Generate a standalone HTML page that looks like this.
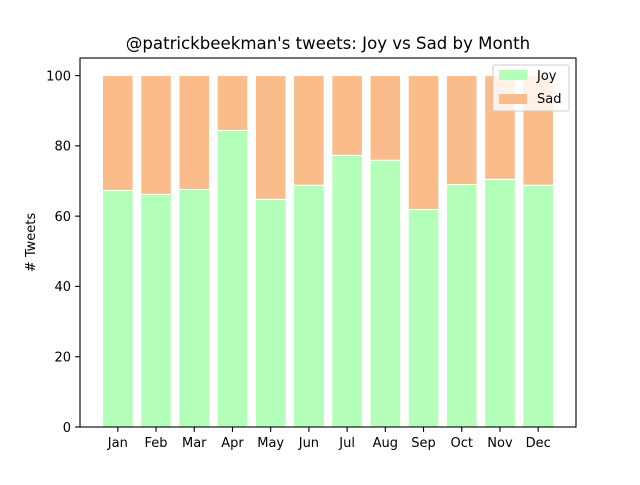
<!DOCTYPE html>
<html><head><meta charset="utf-8"><style>
body{margin:0;background:#fff;font-family:"Liberation Sans","DejaVu Sans",sans-serif;}
</style></head><body>
<svg width="640" height="480" xmlns="http://www.w3.org/2000/svg" id="chart" font-family="DejaVu Sans, Liberation Sans, sans-serif">
<rect width="640" height="480" fill="#fff"/>
</svg>
<script>
const months=["Jan","Feb","Mar","Apr","May","Jun","Jul","Aug","Sep","Oct","Nov","Dec"];
const joy=[67.3,66.2,67.6,84.4,64.8,68.8,77.3,75.9,61.9,69.0,70.5,68.8];
const sad=joy.map(v=>100-v);
const yTicks=[0,20,40,60,80,100];
const L=80,R=576,T=58,B=427;
const xMin=-0.99,xMax=11.99,yMin=0,yMax=105;
const x=i=>L+(i-xMin)/(xMax-xMin)*(R-L);
const y=v=>B-(v-yMin)/(yMax-yMin)*(B-T);
const ns="http://www.w3.org/2000/svg";
const svg=document.getElementById('chart');
function mk(tag,attrs,parent){const e=document.createElementNS(ns,tag);for(const k in attrs)e.setAttribute(k,attrs[k]);(parent||svg).appendChild(e);return e;}
const bw=0.8*(R-L)/(xMax-xMin);
months.forEach((m,i)=>{
  const b1=mk('rect',{x:x(i)-bw/2,y:y(joy[i]),width:bw,height:y(0)-y(joy[i]),fill:'#b3ffb9',stroke:'#fff','stroke-width':1});
  
  
  const b2=mk('rect',{x:x(i)-bw/2,y:y(joy[i]+sad[i]),width:bw,height:y(joy[i])-y(joy[i]+sad[i]),fill:'#f9bc8a',stroke:'#fff','stroke-width':1});
  
  
  const t=mk('line',{x1:x(i),x2:x(i),y1:B,y2:B+4.9,stroke:'#000','stroke-width':1.1});
  
  
  const tl=mk('text',{x:x(i),y:B+20,'text-anchor':'middle','font-size':13,fill:'#000'});
  tl.textContent=m;
  
  
});
yTicks.forEach(v=>{
  const t=mk('line',{x1:L-4.9,x2:L,y1:y(v),y2:y(v),stroke:'#000','stroke-width':1.1});
  
  
  const tl=mk('text',{x:L-9,y:y(v)+4.8,'text-anchor':'end','font-size':13,fill:'#000'});
  tl.textContent=v;
  
  
});
const frame=mk('rect',{x:L,y:T,width:R-L,height:B-T,fill:'none',stroke:'#000','stroke-width':1.1});


const title=mk('text',{x:(L+R)/2,y:T-9,'text-anchor':'middle','font-size':16.6,fill:'#000'});
title.textContent="@patrickbeekman's tweets: Joy vs Sad by Month";


const yt=mk('text',{x:0,y:0,'text-anchor':'middle','font-size':13,fill:'#000',transform:`translate(35,${(T+B)/2}) rotate(-90)`});
yt.textContent="# Tweets";


const lg=mk('g',{});


mk('rect',{x:493,y:65,width:76,height:46,rx:2,fill:'#fff','fill-opacity':0.8,stroke:'#ccc','stroke-width':1},lg);
const e1=mk('rect',{x:499,y:70,width:28,height:10,fill:'#b3ffb9'},lg);


const l1=mk('text',{x:537,y:80,'font-size':13},lg);l1.textContent='Joy';


const e2=mk('rect',{x:499,y:94,width:28,height:10,fill:'#f9bc8a'},lg);


const l2=mk('text',{x:537,y:103,'font-size':13},lg);l2.textContent='Sad';


</script>
</body></html>
